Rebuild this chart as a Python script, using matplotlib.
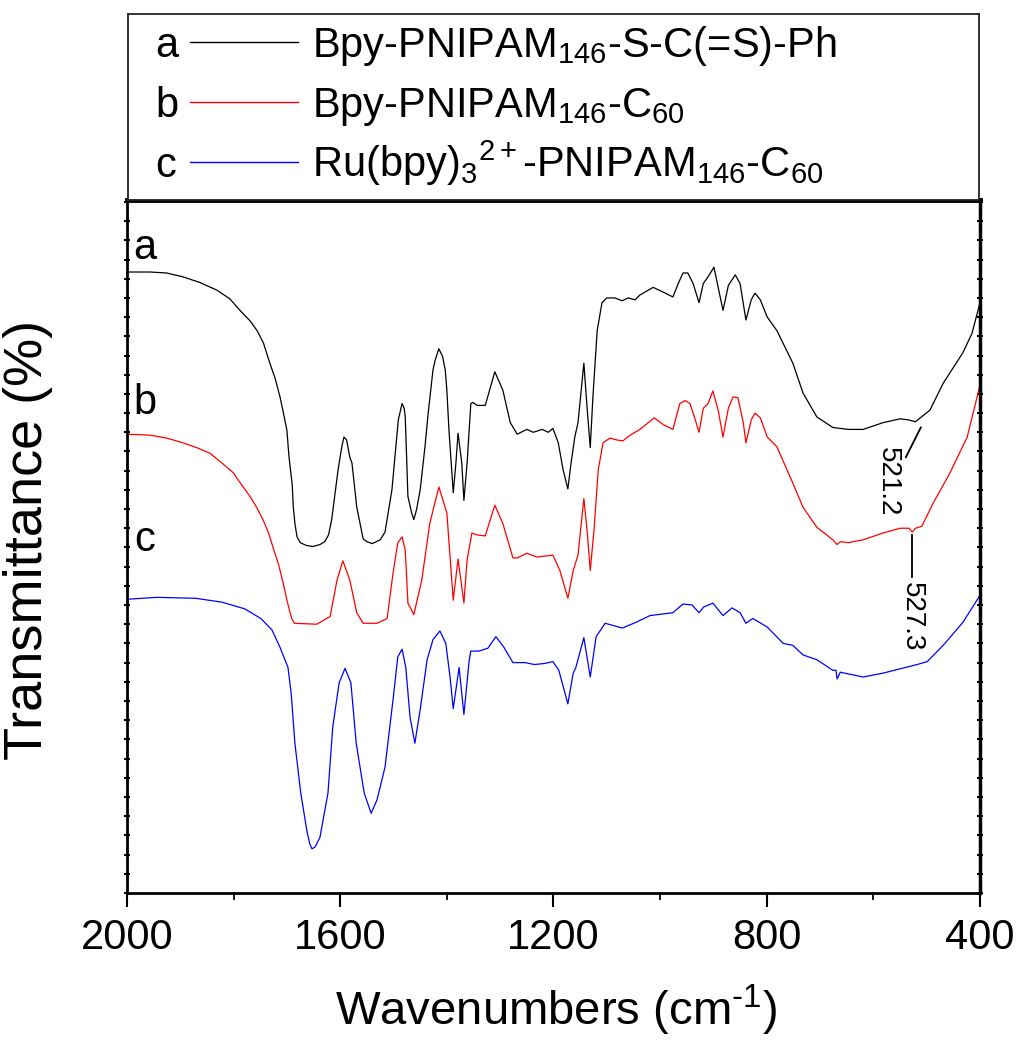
import matplotlib
matplotlib.use("Agg")
import matplotlib.pyplot as plt
from matplotlib.ticker import MultipleLocator

plt.rcParams['font.family'] = ['Liberation Sans', 'DejaVu Sans']
plt.rcParams['mathtext.fontset'] = 'custom'
plt.rcParams['mathtext.rm'] = 'Liberation Sans'
plt.rcParams['mathtext.it'] = 'Liberation Sans'
plt.rcParams['mathtext.default'] = 'regular'

# spectrum a: Bpy-PNIPAM146-S-C(=S)-Ph (black)
wn_a = [2000, 1957, 1926, 1895, 1863, 1831, 1807, 1788, 1769, 1756, 1744, 1732, 1722, 1713,
        1705, 1700, 1696, 1690, 1688, 1685, 1681, 1675, 1663, 1651, 1638, 1629, 1622, 1616,
        1604, 1597, 1593, 1588, 1582, 1578, 1569, 1557, 1550, 1540, 1525, 1516, 1503, 1491,
        1484, 1480, 1478, 1473, 1466, 1462, 1457, 1450, 1441, 1435, 1426, 1422, 1415, 1408,
        1403, 1400, 1396, 1388, 1383, 1379, 1372, 1368, 1362, 1355,
        1351, 1343, 1328, 1310, 1295, 1281, 1268, 1250, 1238, 1221, 1210, 1201, 1191, 1182,
        1173, 1167, 1160, 1154, 1143, 1137, 1131, 1126, 1118, 1109, 1100, 1085, 1071, 1060,
        1047, 1038, 1013, 994, 976, 966, 957, 948, 938, 927, 919, 910, 899, 891, 882, 872,
        859, 850, 839, 829, 822, 812, 799, 781, 751, 732, 706, 676, 647, 619, 582, 550, 535,
        521, 494, 469, 432, 415, 400]
t_a = [64.7, 64.7, 64.6, 64.2, 63.6, 62.8, 61.9, 60.7, 59.6, 58.6, 57.3, 55.2, 53.6, 51.7,
       49.6, 48.2, 45.4, 42.5, 40.2, 38.5, 37.1, 36.5, 36.2, 36.1, 36.3, 36.6, 37.3, 38.9,
       44.1, 46.5, 47.5, 47.2, 45.4, 44.8, 40.2, 36.9, 36.6, 36.4, 36.8, 37.6, 42.0, 49.3,
       51.0, 50.5, 49.6, 41.3, 39.6, 38.9, 39.9, 42.0, 46.5, 50.0, 54.5, 55.5, 56.7, 55.9,
       54.5, 52.4, 48.2, 41.7, 44.8, 47.9, 44.8, 40.9, 44.8, 51.0,
       51.1, 50.8, 50.8, 54.3, 52.4, 49.0, 47.8, 48.3, 48.0, 48.3, 48.0, 48.4, 46.9, 44.1,
       42.1, 44.8, 47.5, 49.0, 55.2, 50.6, 46.4, 51.7, 58.6, 61.5, 62.0, 62.0, 61.7, 62.0,
       61.8, 62.3, 63.1, 62.6, 62.1, 63.5, 64.6, 64.6, 63.5, 61.5, 63.5, 64.2, 65.2, 63.1,
       60.7, 63.3, 64.4, 63.5, 59.7, 61.8, 62.5, 61.8, 60.0, 58.6, 55.2, 52.1, 49.6, 48.5,
       48.3, 48.3, 49.0, 49.4, 49.3, 49.1, 50.3, 53.1, 56.3, 58.3, 61.5]

# spectrum b: Bpy-PNIPAM146-C60 (red)
wn_b = [2000, 1957, 1926, 1895, 1869, 1844, 1822, 1801, 1782, 1769, 1757, 1745, 1735, 1726,
        1716, 1707, 1700, 1694, 1691, 1686, 1644, 1619, 1606,
        1595, 1582, 1569, 1557, 1531, 1512, 1501, 1492, 1484, 1478, 1473, 1462, 1447, 1432,
        1415, 1400, 1388, 1379, 1368, 1362, 1353, 1343, 1328, 1310, 1295, 1276, 1268, 1250,
        1231, 1201, 1188, 1173, 1163, 1154, 1143, 1137, 1131, 1124, 1116, 1107, 1094, 1081,
        1070, 1056, 1038, 1011, 994, 976, 963, 953, 944, 934, 927, 919, 910, 901, 891, 882,
        872, 863, 854, 844, 839, 829, 822, 812, 799, 781, 751, 732, 706, 676, 668, 662, 647,
        619, 582, 550, 533, 527, 521, 509, 488, 456, 424, 400]
t_b = [47.8, 47.7, 47.4, 46.9, 46.4, 45.8, 44.8, 43.8, 42.3, 41.3, 40.2, 38.9, 37.6, 36.0,
       34.3, 32.3, 30.5, 29.2, 28.6, 28.1, 28.0, 28.8, 32.6,
       34.6, 32.6, 29.2, 28.1, 28.1, 28.6, 33.3, 36.5, 37.1, 35.7, 30.2, 29.0, 32.6, 38.5,
       42.3, 39.6, 30.5, 34.8, 30.2, 34.7, 37.5, 37.3, 37.2, 40.4, 38.5, 34.9, 34.9, 35.4,
       35.0, 35.2, 33.6, 30.7, 33.6, 35.2, 41.1, 37.8, 33.6, 37.8, 44.1, 46.9, 47.4, 47.2,
       47.1, 47.7, 48.3, 49.5, 48.8, 48.3, 51.0, 51.3, 51.0, 49.3, 48.0, 50.5, 51.0, 52.3,
       50.3, 47.5, 50.5, 51.7, 51.6, 49.0, 46.9, 49.3, 50.0, 49.5, 47.5, 46.5, 42.7, 40.2,
       38.1, 36.8, 36.3, 36.6, 36.5, 36.8, 37.5, 38.0, 38.0, 37.6, 38.0, 38.2, 40.6, 43.8,
       47.5, 52.9]

# spectrum c: Ru(bpy)3 2+-PNIPAM146-C60 (blue)
wn_c = [2000, 1944, 1871, 1822, 1779, 1749, 1728, 1713, 1698, 1692, 1685, 1674, 1662, 1657,
        1653, 1647, 1638, 1623, 1614, 1602, 1591, 1580, 1570, 1555, 1542, 1531, 1516, 1501,
        1492, 1484,
        1477, 1469, 1460, 1450, 1437, 1426, 1413, 1402, 1394, 1388, 1377, 1368, 1358, 1355,
        1340, 1323, 1308, 1293, 1276, 1253, 1236, 1218, 1201, 1190, 1173, 1163, 1158, 1143,
        1131, 1120, 1103, 1071, 1045, 1019, 976, 957, 940, 927, 918, 901, 882, 865, 850, 839,
        826, 799, 769, 751, 732, 706, 676, 670, 668, 662, 619, 582, 518, 499, 469, 432, 400]
t_c = [30.6, 30.8, 30.7, 30.3, 29.6, 28.6, 27.4, 25.6, 23.5, 20.8, 15.6, 10.4, 6.3, 5.1,
       4.6, 4.8, 5.8, 10.4, 17.3, 21.9, 23.4, 21.9, 15.6, 10.4, 8.3, 9.7, 13.1, 20.1,
       24.6, 25.4, 23.5,
       18.3, 15.6, 19.1, 24.3, 26.4, 27.3, 26.0, 22.5, 19.2, 23.5, 18.6, 24.3, 25.2, 25.2,
       25.5, 26.7, 25.6, 24.0, 24.0, 23.8, 23.9, 24.1, 23.2, 19.7, 22.9, 23.5, 26.6, 22.5,
       26.7, 28.1, 27.6, 28.2, 28.9, 29.2, 30.1, 30.0, 29.2, 29.8, 30.2, 28.9, 29.7, 29.2,
       28.1, 28.6, 27.7, 26.0, 25.8, 24.8, 24.3, 23.2, 23.2, 22.3, 23.0, 22.5, 22.9, 23.8,
       24.1, 25.8, 28.2, 31.0]

letters = ['a', 'b', 'c']
names = [r'Bpy-PNIPAM$_{146}$-S-C(=S)-Ph',
         r'Bpy-PNIPAM$_{146}$-C$_{60}$',
         r'Ru(bpy)$_{3}{}^{2+}$-PNIPAM$_{146}$-C$_{60}$']
colors = ['black', 'red', 'blue']

fig = plt.figure(figsize=(10.19, 10.44), dpi=100)
ax = fig.add_axes([0.1246, 0.1447, 0.8371, 0.6637])

for w, t, c in zip([wn_a, wn_b, wn_c], [t_a, t_b, t_c], colors):
    ax.plot(w, t, color=c, lw=0.9)

ax.set_xlim(2000, 400)
ax.set_ylim(0, 72.2)
ax.xaxis.set_major_locator(MultipleLocator(400))
ax.xaxis.set_minor_locator(MultipleLocator(200))
ax.yaxis.set_major_locator(MultipleLocator(2))
ax.tick_params(axis='x', which='major', direction='out', length=10, width=1.5,
               labelsize=30, pad=8, top=False)
ax.tick_params(axis='x', which='minor', direction='out', length=5, width=1.3, top=False)
ax.tick_params(axis='y', which='major', direction='inout', length=4, width=1.5,
               left=True, right=True, labelleft=False)
for side, lw in [('left', 2), ('bottom', 2), ('right', 2.5), ('top', 3.5)]:
    ax.spines[side].set_linewidth(lw)

ax.set_xlabel('Wavenumbers (cm$^{\u2010 1}$)', fontsize=34)
ax.set_ylabel('Transmittance (%)', fontsize=39)
ax.xaxis.set_label_coords(0.503, -0.130)
ax.yaxis.set_label_coords(-0.087, 0.51)

# curve letters
ax.text(1966, 67.2, 'a', fontsize=30, ha='center', va='center')
ax.text(1966, 51.0, 'b', fontsize=30, ha='center', va='center')
ax.text(1966, 36.8, 'c', fontsize=30, ha='center', va='center')

# peak labels
ax.plot([511, 539], [48.5, 45.4], color='black', lw=1.3)
ax.text(572, 42.8, '521.2', fontsize=20, rotation=-90, ha='center', va='center')
ax.plot([527, 527], [37.3, 32.9], color='black', lw=1.3)
ax.text(527, 28.75, '527.3', fontsize=20, rotation=-90, ha='center', va='center')

# legend box above the plot
lax = fig.add_axes([0.1256, 0.8084, 0.8351, 0.1782])
lax.set_xticks([])
lax.set_yticks([])
lax.set_xlim(0, 1)
lax.set_ylim(0, 1)
for s in lax.spines.values():
    s.set_linewidth(1.3)
    s.set_color('#222222')
for i, (let, name, c) in enumerate(zip(letters, names, colors)):
    yb = 0.769 - i * 0.3225
    lax.text(0.032, yb, let, fontsize=30, va='baseline')
    lax.plot([0.073, 0.200], [yb + 0.081, yb + 0.081], color=c, lw=1.0)
    lax.text(0.216, yb, name, fontsize=30, va='baseline')

fig.savefig('out.png', dpi=100)
